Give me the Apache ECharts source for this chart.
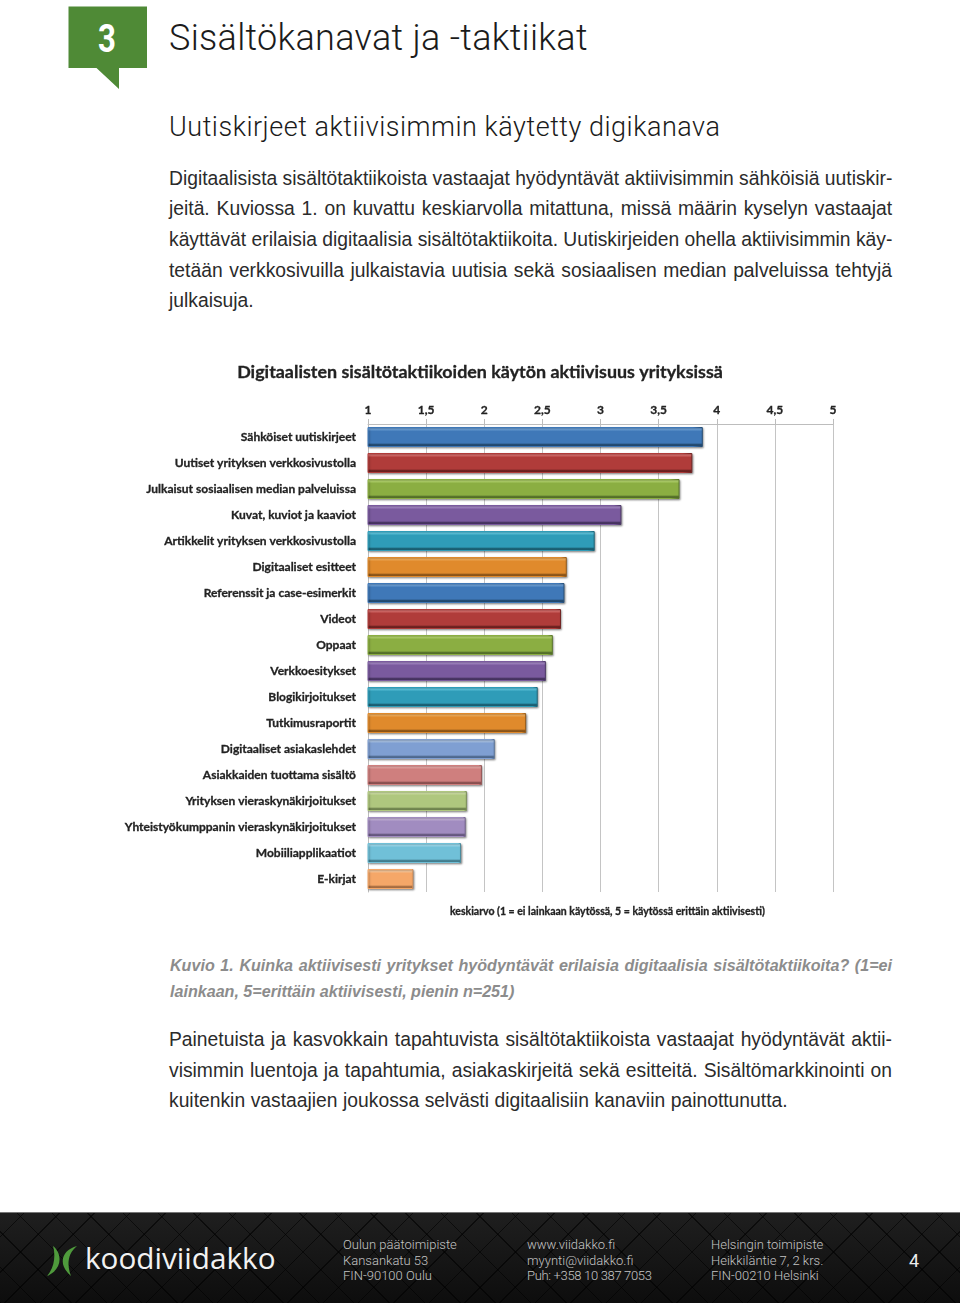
<!DOCTYPE html>
<html>
<head>
<meta charset="utf-8">
<title>Sisältökanavat ja -taktiikat</title>
<script src="https://cdn.jsdelivr.net/npm/echarts@6/dist/echarts.min.js"></script>
<style>
html,body{margin:0;padding:0;background:#fff;}
#page{position:relative;width:960px;height:1303px;overflow:hidden;font-family:"Liberation Sans",Arial,sans-serif;}
#page div.t{position:absolute;white-space:nowrap;}
.h1{left:169px;top:16px;font:300 36px/44px Roboto,sans-serif;letter-spacing:.3px;color:#1b1b1b;}
.h2{left:169px;top:109px;font:300 27px/36px Roboto,sans-serif;letter-spacing:.52px;color:#1b1b1b;}
#page div.b{position:absolute;left:169px;width:723px;font-size:19.3px;line-height:22px;color:#2b2b2b;white-space:nowrap;text-align:justify;text-align-last:justify;}
#page div.b.last{text-align-last:left;word-spacing:.2px;}
#page div.c{position:absolute;left:170px;width:722px;font-size:16.1px;line-height:20px;font-style:italic;font-weight:bold;color:#8c8c8c;white-space:nowrap;text-align:justify;text-align-last:justify;}
#page div.c.last{text-align-last:left;}
#chart{position:absolute;left:0;top:350px;width:960px;height:580px;}
#foot{position:absolute;left:0;top:1212px;width:960px;height:91px;border-top:1px solid #777;box-sizing:border-box;
 background:
  repeating-linear-gradient(45deg,rgba(0,0,0,.6) 0 1px,transparent 1px 25px),
  repeating-linear-gradient(-45deg,rgba(0,0,0,.6) 0 1px,transparent 1px 25px),
  linear-gradient(#1f1f1f,#0d0d0d);}
.f{font:300 13px/15.5px Roboto,sans-serif;color:#c4c4c4;}
</style>
</head>
<body>
<div id="page">
  <svg style="position:absolute;left:0;top:0" width="160" height="95">
    <polygon points="68.5,6.5 147,6.5 147,68 119,68 119,89 96.500,68 68.500,68" fill="#4f8a36"/>
  </svg>
  <div class="t" style="left:88px;top:17px;width:38px;text-align:center;font:700 39px/44px Roboto,sans-serif;color:#fff;transform:scaleX(.8)">3</div>
  <div class="t h1">Sisältökanavat ja -taktiikat</div>
  <div class="t h2">Uutiskirjeet aktiivisimmin käytetty digikanava</div>

  <div class="b" style="top:167.5px">Digitaalisista sisältötaktiikoista vastaajat hyödyntävät aktiivisimmin sähköisiä uutiskir-</div>
  <div class="b" style="top:198px">jeitä. Kuviossa 1. on kuvattu keskiarvolla mitattuna, missä määrin kyselyn vastaajat</div>
  <div class="b" style="top:228.500px">käyttävät erilaisia digitaalisia sisältötaktiikoita. Uutiskirjeiden ohella aktiivisimmin käy-</div>
  <div class="b" style="top:259.500px">tetään verkkosivuilla julkaistavia uutisia sekä sosiaalisen median palveluissa tehtyjä</div>
  <div class="b last" style="top:289.500px">julkaisuja.</div>

  <div id="chart"></div>

  <div class="c" style="top:955px">Kuvio 1. Kuinka aktiivisesti yritykset hyödyntävät erilaisia digitaalisia sisältötaktiikoita? (1=ei</div>
  <div class="c last" style="top:981px">lainkaan, 5=erittäin aktiivisesti, pienin n=251)</div>

  <div class="b" style="top:1028.500px">Painetuista ja kasvokkain tapahtuvista sisältötaktiikoista vastaajat hyödyntävät aktii-</div>
  <div class="b" style="top:1059.500px">visimmin luentoja ja tapahtumia, asiakaskirjeitä sekä esitteitä. Sisältömarkkinointi on</div>
  <div class="b last" style="top:1089.500px">kuitenkin vastaajien joukossa selvästi digitaalisiin kanaviin painottunutta.</div>

  <div id="foot"></div>
  <svg style="position:absolute;left:40px;top:1240px" width="44" height="40">
    <path d="M13 6 C23 14 22 30 7 36 C14 28 16 16 13 6Z" fill="#4f9a3c"/>
    <path d="M37 6 C22 10 17 24 31 36 C27 26 27 14 37 6Z" fill="#4f9a3c"/>
  </svg>
  <div class="t" style="left:85px;top:1237px;font:400 29.7px/42px 'Open Sans',sans-serif;color:#f2f2f2">koodiviidakko</div>
  <div class="t f" style="left:343px;top:1237px">Oulun päätoimipiste<br>Kansankatu 53<br>FIN-90100 Oulu</div>
  <div class="t f" style="left:527px;top:1237px">www.viidakko.fi<br>myynti@viidakko.fi<br><span style="letter-spacing:-.33px">Puh: +358 10 387 7053</span></div>
  <div class="t f" style="left:711px;top:1237px">Helsingin toimipiste<br>Heikkiläntie 7, 2 krs.<br>FIN-00210 Helsinki</div>
  <div class="t" style="left:909px;top:1250px;font:400 18px/22px Roboto,sans-serif;color:#eee">4</div>
</div>
<script>
var categories = ['Sähköiset uutiskirjeet','Uutiset yrityksen verkkosivustolla','Julkaisut sosiaalisen median palveluissa','Kuvat, kuviot ja kaaviot','Artikkelit yrityksen verkkosivustolla','Digitaaliset esitteet','Referenssit ja case-esimerkit','Videot','Oppaat','Verkkoesitykset','Blogikirjoitukset','Tutkimusraportit','Digitaaliset asiakaslehdet','Asiakkaiden tuottama sisältö','Yrityksen vieraskynäkirjoitukset','Yhteistyökumppanin vieraskynäkirjoitukset','Mobiiliapplikaatiot','E-kirjat']
var values = [3.88,3.79,3.68,3.18,2.95,2.71,2.69,2.66,2.59,2.53,2.46,2.36,2.09,1.98,1.85,1.84,1.80,1.39]
var barColors = ['#3f78b8','#b03c3a','#8bae42','#7a5a9e','#2f9cb8','#e08a2c','#3f78b8','#b03c3a','#8bae42','#7a5a9e','#2f9cb8','#e08a2c','#7f9fd2','#cf7f7e','#afc77e','#a18cc0','#70c0d8','#f5a768']
var barDark = ['#23496f','#6c2120','#55702a','#463360','#1a5f72','#8c5518','#23496f','#6c2120','#55702a','#463360','#1a5f72','#8c5518','#4f6a90','#8a5050','#70844e','#675880','#437f90','#a86e42']
var barLight = ['#6a9fd8','#d86a68','#b2d46a','#a284c4','#5cc6e0','#f5ae58','#6a9fd8','#d86a68','#b2d46a','#a284c4','#5cc6e0','#f5ae58','#a8c2e6','#e8a6a4','#cfe2a4','#c4b2da','#9cdcf0','#fcc898']

var myChart = echarts.init(document.getElementById('chart'))
var labelFont = 'Lato, "Open Sans", sans-serif'
// thicken Lato bold a little, the reference text is heavier
var labelStroke = { textBorderColor: '#222', textBorderWidth: 0.3 }

var barData = values.map(function (v, i) {
  return {
    value: v,
    itemStyle: {
      color: new echarts.graphic.LinearGradient(0, 0, 0, 1, [
        { offset: 0, color: barLight[i] },
        { offset: 0.14, color: barLight[i] },
        { offset: 0.2, color: barColors[i] },
        { offset: 0.8, color: barColors[i] },
        { offset: 0.88, color: barDark[i] },
        { offset: 1, color: barDark[i] }
      ]),
      borderColor: new echarts.graphic.LinearGradient(0, 0, 1, 0, [
        { offset: 0, color: barColors[i] },
        { offset: 0.97, color: barColors[i] },
        { offset: 1, color: barDark[i] }
      ]),
      borderWidth: 1,
      shadowColor: 'rgba(0,0,0,.35)',
      shadowBlur: 2,
      shadowOffsetX: 1,
      shadowOffsetY: 1
    }
  }
})

myChart.setOption({
  animation: false,
  backgroundColor: '#fff',
  title: [{
    text: 'Digitaalisten sisältötaktiikoiden käytön aktiivisuus yrityksissä',
    left: 'center',
    top: 8,
    textStyle: Object.assign({ fontFamily: labelFont, fontWeight: 'bold', fontSize: 17.9, color: '#222' }, labelStroke)
  }, {
    text: 'keskiarvo (1 = ei lainkaan käytössä, 5 = käytössä erittäin aktiivisesti)',
    left: 445,
    top: 551,
    textStyle: Object.assign({ fontFamily: labelFont, fontWeight: 'bold', fontSize: 10.5, color: '#222' }, labelStroke)
  }],
  grid: { left: 368, top: 74, width: 465, height: 468 },
  xAxis: {
    type: 'value',
    position: 'top',
    min: 1,
    max: 5,
    interval: 0.5,
    axisLine: { show: true, lineStyle: { color: '#bdbdbd', width: 1 } },
    axisTick: { show: true, length: 5, lineStyle: { color: '#bdbdbd' } },
    splitLine: { show: true, lineStyle: { color: '#c4c4c4', width: 1 } },
    axisLabel: Object.assign({
      margin: 8,
      fontFamily: labelFont,
      fontWeight: 'bold',
      fontSize: 12,
      color: '#222',
      formatter: function (v) { return String(v).replace('.', ',') }
    }, labelStroke)
  },
  yAxis: {
    type: 'category',
    inverse: true,
    data: categories,
    axisLine: { show: true, lineStyle: { color: '#bdbdbd' } },
    axisTick: { show: false },
    axisLabel: Object.assign({
      margin: 12,
      fontFamily: labelFont,
      fontWeight: 'bold',
      fontSize: 12,
      color: '#222'
    }, labelStroke)
  },
  series: [{
    type: 'bar',
    data: barData,
    barWidth: 20
  }]
})
</script>
</body>
</html>
